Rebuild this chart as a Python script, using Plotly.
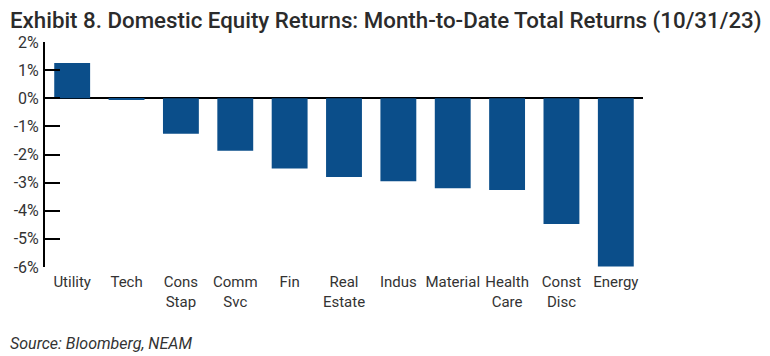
import plotly.graph_objects as go

categories = ["Utility", "Tech", "Cons<br>Stap", "Comm<br>Svc", "Fin", "Real<br>Estate",
              "Indus", "Material", "Health<br>Care", "Const<br>Disc", "Energy"]
returns_pct = [1.25, -0.05, -1.26, -1.87, -2.5, -2.8, -2.95, -3.2, -3.26, -4.47, -5.98]
y_ticks = [-6, -5, -4, -3, -2, -1, 0, 1, 2]
y_tick_labels = ["-6%", "-5%", "-4%", "-3%", "-2%", "-1%", "0%", "1%", "2%"]

FONT = "Roboto"
# page body has an 8px default margin; margins below compensate for it
fig = go.Figure(go.Bar(x=categories, y=returns_pct, marker=dict(color="#0b4e8a", line=dict(width=0)),
                       width=0.66))

PLOT_W = 598
PLOT_H = 225
fig.update_layout(
    width=770, height=356,
    margin=dict(l=37, r=135, t=34, b=97, autoexpand=False),
    paper_bgcolor="white", plot_bgcolor="white",
    showlegend=False,
    font=dict(family=FONT, size=15, color="#333333"),
)
fig.add_annotation(text="Exhibit 8. Domestic Equity Returns: Month-to-Date Total Returns (10/31/23)",
                   xref="paper", yref="paper", x=-37 / PLOT_W, y=1 + 22 / PLOT_H,
                   xanchor="left", yanchor="middle", showarrow=False,
                   font=dict(family=FONT, size=22.3, color="#2b2b2b", weight=500))
fig.update_yaxes(range=[-6, 2], tickvals=y_ticks, ticktext=y_tick_labels, showgrid=False,
                 showline=True, linecolor="black", linewidth=2,
                 ticks="inside", ticklen=15, tickwidth=2, tickcolor="black",
                 zeroline=True, zerolinecolor="black", zerolinewidth=2,
                 ticklabelstandoff=1, tickfont=dict(size=16), automargin=False)
fig.update_xaxes(showline=False, ticks="", showgrid=False, tickfont=dict(size=15),
                 ticklabelstandoff=4, automargin=False)

fig.add_annotation(text="<i>Source: Bloomberg, NEAM</i>", xref="paper", yref="paper",
                   x=-37 / PLOT_W, y=-(343 - 267) / PLOT_H, xanchor="left", yanchor="middle",
                   showarrow=False, font=dict(family=FONT, size=16, color="#333333"))

fig.write_html("out.html")
